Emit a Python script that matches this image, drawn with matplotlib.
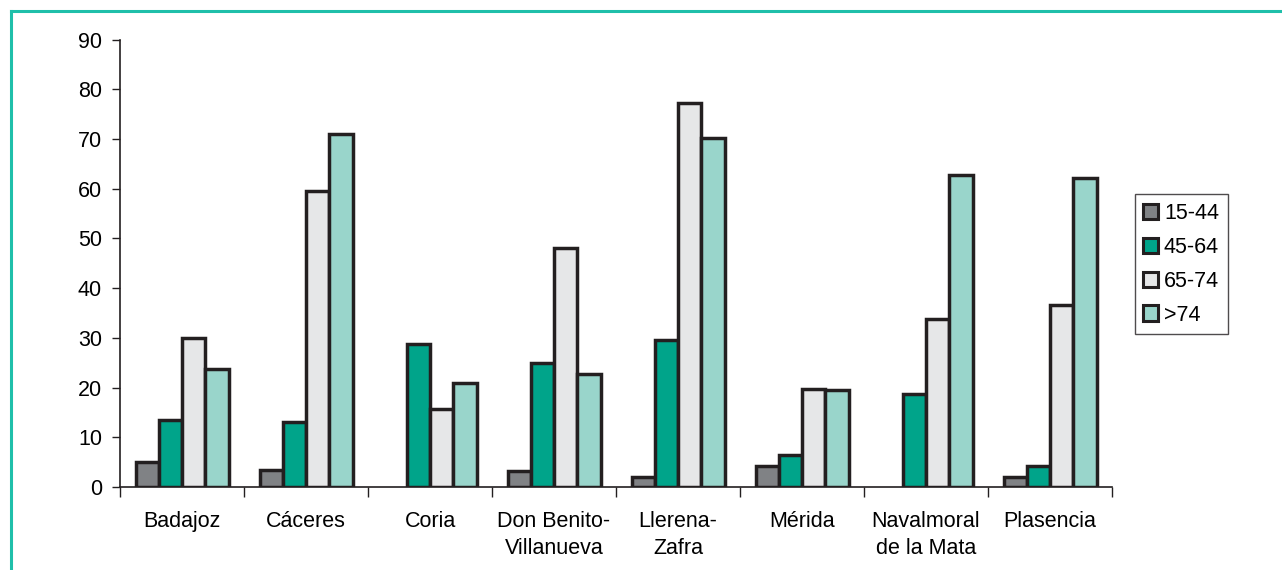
import numpy as np
import matplotlib.pyplot as plt
from matplotlib.lines import Line2D

plt.rcParams['font.family'] = ['Liberation Sans', 'DejaVu Sans']

# ---- Data ----
districts = ['Badajoz', 'Cáceres', 'Coria', 'Don Benito-\nVillanueva', 'Llerena-\nZafra',
             'Mérida', 'Navalmoral\nde la Mata', 'Plasencia']
age_groups = ['15-44', '45-64', '65-74', '>74']
v_15_44 = [5.0, 3.5, 0, 3.3, 2.0, 4.3, 0, 2.0]
v_45_64 = [13.5, 13.0, 28.8, 24.9, 29.6, 6.4, 18.7, 4.2]
v_65_74 = [29.9, 59.5, 15.7, 48.0, 77.2, 19.8, 33.8, 36.7]
v_gt_74 = [23.7, 71.0, 20.9, 22.7, 70.1, 19.6, 62.8, 62.2]
series = [v_15_44, v_45_64, v_65_74, v_gt_74]
colors = ['#808285', '#00A48A', '#E6E7E8', '#99D5CB']

# ---- Plotting ----
fig = plt.figure(figsize=(12.82, 5.70), dpi=100)
ax = fig.add_axes([120 / 1282, 1 - 487 / 570, (1112 - 120) / 1282, (487 - 39.5) / 570])

x = np.arange(len(districts))
w = 0.1875
for i, (vals, col) in enumerate(zip(series, colors)):
    bars = ax.bar(x + (i - 1.5) * w, vals, width=w, color=col, edgecolor='#231F20',
                  linewidth=2.5, label=age_groups[i], zorder=3)
    for b in bars:
        if b.get_height() == 0:
            b.set_visible(False)

ax.set_xlim(-0.5, len(districts) - 0.5)
ax.set_ylim(0, 90)
ax.set_yticks(range(0, 91, 10))
ax.tick_params(axis='y', labelsize=15.5, length=6, width=1, color='#231F20', pad=7)

# category labels centered, ticks between categories
ax.set_xticks(np.arange(len(districts) + 1) - 0.5)
ax.set_xticklabels([])
ax.set_xticks(x, minor=True)
ax.set_xticklabels(districts, minor=True, fontsize=15.5, linespacing=1.4)
ax.tick_params(axis='x', which='major', length=7, width=1, color='#231F20', direction='out')
ax.tick_params(axis='x', which='minor', length=0, pad=17)

for side in ['top', 'right']:
    ax.spines[side].set_visible(False)
for side in ['left', 'bottom']:
    ax.spines[side].set_color('#231F20')
    ax.spines[side].set_linewidth(1.2)
ax.spines['bottom'].set_zorder(4)

leg = ax.legend(loc='center left', bbox_to_anchor=(1.023, 0.498), fontsize=15.5,
                frameon=True, fancybox=False, edgecolor='#231F20',
                handlelength=0.7, handleheight=0.7, handletextpad=0.25,
                labelspacing=0.6, borderpad=0.4, borderaxespad=0)
leg.get_frame().set_linewidth(1.0)
for h in leg.legend_handles:
    h.set_linewidth(2.2)

# teal frame around the chart
fig.add_artist(Line2D([11 / 1282, 1], [1 - 11 / 570, 1 - 11 / 570], color='#1FBFAA', lw=2.2))
fig.add_artist(Line2D([11 / 1282, 11 / 1282], [0, 1 - 11 / 570], color='#1FBFAA', lw=2.2))

plt.savefig('out.png', dpi=100)
